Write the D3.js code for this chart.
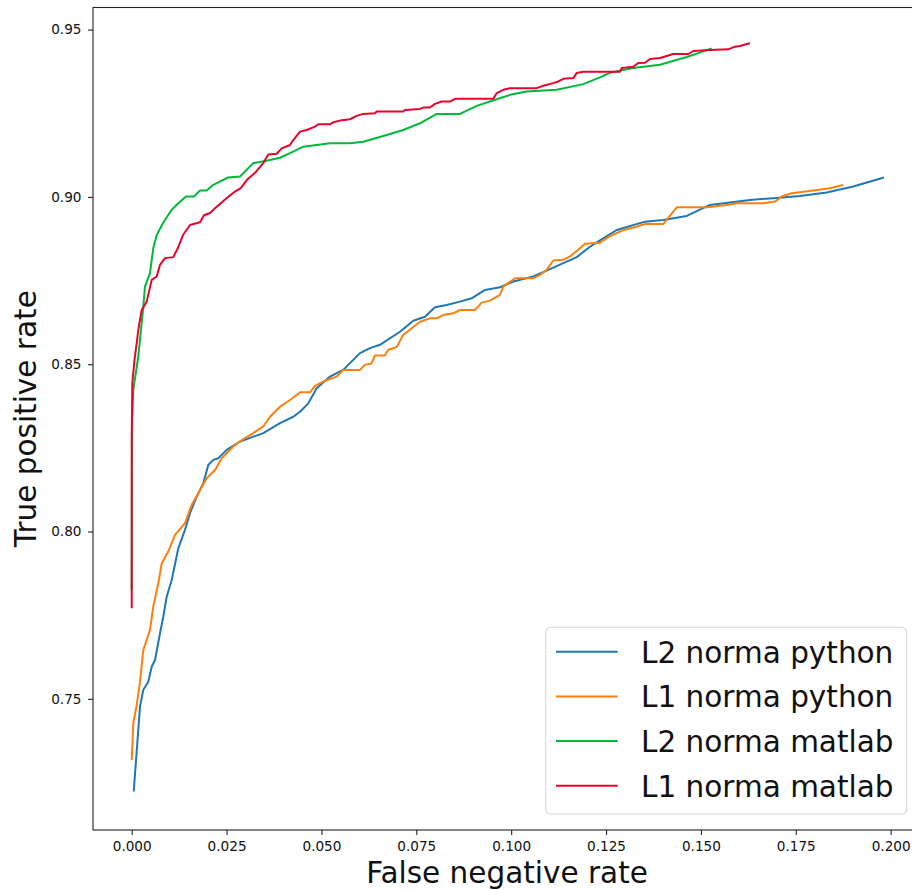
<!DOCTYPE html>
<html>
<head>
<meta charset="utf-8">
<script src="https://cdn.jsdelivr.net/npm/d3@7"></script>
<style>
  html, body { margin: 0; padding: 0; background: #fff; }
  svg { display: block; font-family: "DejaVu Sans", sans-serif; }
</style>
</head>
<body>
<svg id="chart" width="912" height="890"></svg>
<script>
// ROC-style curves: false negative rate (x) vs true positive rate (y)
const seriesNames = ["L2 norma python", "L1 norma python", "L2 norma matlab", "L1 norma matlab"];

const xTicks = [0, 0.025, 0.05, 0.075, 0.1, 0.125, 0.15, 0.175, 0.2];
const yTicks = [0.75, 0.80, 0.85, 0.90, 0.95];

const l2PythonFnr = [0.00053,0.00219,0.00306,0.00437,0.00527,0.00614,0.00746,0.00833,0.00922,0.01054,0.01228,0.01404,0.01536,0.01713,0.01887,0.02018,0.0215,0.02282,0.02503,0.02854,0.03468,0.03908,0.04258,0.04435,0.04654,0.04875,0.05225,0.05576,0.06016,0.06279,0.06543,0.0707,0.0742,0.07729,0.07992,0.083,0.08651,0.08959,0.0931,0.09705,0.10055,0.10582,0.11022,0.11726,0.12076,0.1234,0.1278,0.13526,0.14008,0.14625,0.15239,0.16293,0.16996,0.17611,0.18314,0.19015,0.19823];
const l2PythonTpr = [0.7223,0.7477,0.7527,0.7551,0.7596,0.7616,0.7696,0.7746,0.7805,0.7855,0.7950,0.8005,0.8055,0.8104,0.8144,0.8199,0.8214,0.8219,0.8244,0.8269,0.8294,0.8324,0.8343,0.8358,0.8383,0.8428,0.8463,0.8483,0.8533,0.8548,0.8558,0.8597,0.8630,0.8642,0.8670,0.8677,0.8687,0.8697,0.8722,0.8730,0.8747,0.8762,0.8784,0.8820,0.8851,0.8870,0.8901,0.8926,0.8931,0.8943,0.8976,0.8991,0.8997,0.9003,0.9013,0.9031,0.9058];

const l1PythonFnr = [0,0.00042,0.00132,0.00219,0.00306,0.00482,0.00569,0.00701,0.00791,0.00964,0.01141,0.01404,0.01581,0.01755,0.01976,0.02195,0.02372,0.02677,0.02941,0.03204,0.03468,0.03644,0.03908,0.04171,0.04435,0.04699,0.0483,0.05138,0.05402,0.05576,0.06016,0.06148,0.06324,0.06411,0.06675,0.06762,0.06983,0.07157,0.0742,0.07597,0.0786,0.08037,0.08211,0.08474,0.08651,0.09046,0.09223,0.09441,0.09705,0.09792,0.101,0.10582,0.10759,0.10935,0.11109,0.11373,0.11549,0.11768,0.11945,0.1234,0.12604,0.12954,0.13307,0.13526,0.14008,0.14361,0.15152,0.15679,0.15942,0.16643,0.16951,0.17128,0.17391,0.17961,0.184,0.18751];
const l1PythonTpr = [0.7317,0.7427,0.7482,0.7551,0.7646,0.7706,0.7776,0.7846,0.7905,0.7940,0.7990,0.8025,0.8080,0.8114,0.8159,0.8184,0.8219,0.8254,0.8276,0.8294,0.8314,0.8343,0.8373,0.8393,0.8416,0.8416,0.8435,0.8453,0.8463,0.8483,0.8483,0.8498,0.8503,0.8526,0.8526,0.8543,0.8551,0.8588,0.8611,0.8627,0.8637,0.8637,0.8647,0.8652,0.8662,0.8662,0.8684,0.8690,0.8707,0.8732,0.8757,0.8757,0.8767,0.8782,0.8810,0.8812,0.8822,0.8842,0.8860,0.8863,0.8883,0.8901,0.8911,0.8919,0.8919,0.8969,0.8969,0.8976,0.8981,0.8981,0.8986,0.9001,0.9011,0.9019,0.9026,0.9036];

const l2MatlabFnr = [0,0.0001,0.00042,0.00174,0.00306,0.0035,0.00482,0.00569,0.00659,0.00825,0.01049,0.01228,0.01431,0.01642,0.018,0.01976,0.0215,0.02538,0.02854,0.03204,0.03557,0.03908,0.04171,0.04522,0.05225,0.05752,0.06103,0.0663,0.07157,0.07597,0.08037,0.08651,0.09091,0.09618,0.09968,0.10408,0.11199,0.119,0.1234,0.12604,0.13217,0.13921,0.14625,0.14975,0.15283];
const l2MatlabTpr = [0.7825,0.8334,0.8423,0.8523,0.8672,0.8732,0.8772,0.8847,0.8886,0.8922,0.8961,0.8981,0.9001,0.9001,0.9019,0.9019,0.9036,0.9058,0.9061,0.9101,0.9108,0.9117,0.9131,0.9150,0.9160,0.9160,0.9165,0.9182,0.9200,0.9220,0.9248,0.9248,0.9272,0.9292,0.9305,0.9315,0.9320,0.9337,0.9357,0.9371,0.9385,0.9395,0.9418,0.9431,0.9444];

const l1MatlabFnr = [0,0,0.00016,0.00074,0.00132,0.00174,0.00264,0.00395,0.00527,0.00659,0.00746,0.00877,0.01096,0.0122,0.01352,0.01536,0.018,0.01905,0.02063,0.02195,0.02414,0.02564,0.02722,0.0288,0.03038,0.03249,0.03468,0.036,0.03821,0.03953,0.04171,0.04258,0.04435,0.04611,0.0483,0.04917,0.05225,0.05312,0.05489,0.05752,0.05929,0.06103,0.06411,0.06456,0.07157,0.07202,0.07597,0.07684,0.0786,0.07992,0.08169,0.08387,0.08519,0.09528,0.09618,0.09792,0.09968,0.10672,0.10846,0.11109,0.11241,0.11373,0.11636,0.11726,0.119,0.12867,0.12912,0.13217,0.13349,0.13526,0.13658,0.13921,0.14098,0.14271,0.14667,0.14799,0.15238,0.15721,0.15897,0.16029,0.16206,0.16293];
const l1MatlabTpr = [0.7771,0.8274,0.8443,0.8513,0.8563,0.8603,0.8662,0.8687,0.8752,0.8762,0.8797,0.8817,0.8820,0.8848,0.8886,0.8916,0.8924,0.8945,0.8952,0.8966,0.8988,0.9002,0.9016,0.9027,0.9051,0.9072,0.9101,0.9127,0.9129,0.9145,0.9155,0.9170,0.9195,0.9200,0.9210,0.9217,0.9217,0.9223,0.9228,0.9232,0.9242,0.9248,0.9250,0.9255,0.9255,0.9260,0.9263,0.9267,0.9267,0.9278,0.9285,0.9285,0.9293,0.9293,0.9310,0.9320,0.9325,0.9325,0.9332,0.9340,0.9345,0.9353,0.9355,0.9370,0.9374,0.9374,0.9385,0.9389,0.9400,0.9401,0.9412,0.9415,0.9421,0.9427,0.9427,0.9436,0.9439,0.9441,0.9449,0.9451,0.9457,0.9459];

const seriesColors = ["#1f77b4", "#ff7f0e", "#00b83a", "#e8032d"];

const series = [
  { name: seriesNames[0], fnr: l2PythonFnr, tpr: l2PythonTpr },
  { name: seriesNames[1], fnr: l1PythonFnr, tpr: l1PythonTpr },
  { name: seriesNames[2], fnr: l2MatlabFnr, tpr: l2MatlabTpr },
  { name: seriesNames[3], fnr: l1MatlabFnr, tpr: l1MatlabTpr }
].map((s, i) => ({ ...s, color: seriesColors[i], points: s.fnr.map((v, j) => [v, s.tpr[j]]) }));

const svg = d3.select("#chart");
const plot = { left: 93, top: 7.5, right: 921, bottom: 830 };

const x = d3.scaleLinear().domain([-0.0102, 0.2080]).range([plot.left, plot.right]);
const y = d3.scaleLinear().domain([0.7108, 0.9566]).range([plot.bottom, plot.top]);

// curves
const line = d3.line().x(d => x(d[0])).y(d => y(d[1]));
const lines = svg.append("g");
series.forEach(s => {
  lines.append("path")
    .attr("d", line(s.points))
    .attr("fill", "none")
    .attr("stroke", s.color)
    .attr("stroke-width", 2)
    .attr("stroke-linejoin", "round")
    .attr("stroke-linecap", "butt");
});

// axes
const xAxis = d3.axisBottom(x).tickValues(xTicks).tickFormat(d3.format(".3f")).tickSize(5).tickPadding(6.5);
const yAxis = d3.axisLeft(y).tickValues(yTicks).tickFormat(d3.format(".2f")).tickSize(5).tickPadding(6.5);

const gx = svg.append("g").attr("transform", `translate(0,${plot.bottom})`).call(xAxis);
const gy = svg.append("g").attr("transform", `translate(${plot.left},0)`).call(yAxis);
[gx, gy].forEach(g => {
  g.select(".domain").remove();
  g.selectAll(".tick line").attr("stroke", "#222").attr("stroke-width", 1.1);
  g.selectAll(".tick text").attr("fill", "#111").style("font-size", "13.6px").style("font-family", "DejaVu Sans");
});

// frame
svg.append("rect")
  .attr("x", plot.left).attr("y", plot.top)
  .attr("width", plot.right - plot.left).attr("height", plot.bottom - plot.top)
  .attr("fill", "none").attr("stroke", "#222").attr("stroke-width", 1.1);

// axis titles
svg.append("text")
  .attr("x", (plot.left + plot.right) / 2).attr("y", 883)
  .attr("text-anchor", "middle")
  .style("font-size", "29.5px").attr("fill", "#111")
  .text("False negative rate");

svg.append("text")
  .attr("transform", `translate(36,${(plot.top + plot.bottom) / 2}) rotate(-90)`)
  .attr("text-anchor", "middle")
  .style("font-size", "29.5px").attr("fill", "#111")
  .text("True positive rate");

// legend
const legend = svg.append("g");
legend.append("rect")
  .attr("x", 545.7).attr("y", 627.3).attr("width", 361).attr("height", 186.7)
  .attr("rx", 5).attr("ry", 5)
  .attr("fill", "#fff").attr("fill-opacity", 0.8)
  .attr("stroke", "#d6d6d6").attr("stroke-width", 1.1);

series.forEach((s, i) => {
  const cy = 651.7 + i * 44.7;
  legend.append("line")
    .attr("x1", 556).attr("x2", 617.7).attr("y1", cy).attr("y2", cy)
    .attr("stroke", s.color).attr("stroke-width", 2);
  legend.append("text")
    .attr("x", 641).attr("y", cy + 11)
    .style("font-size", "29.5px").attr("fill", "#111")
    .text(s.name);
});
</script>
</body>
</html>
